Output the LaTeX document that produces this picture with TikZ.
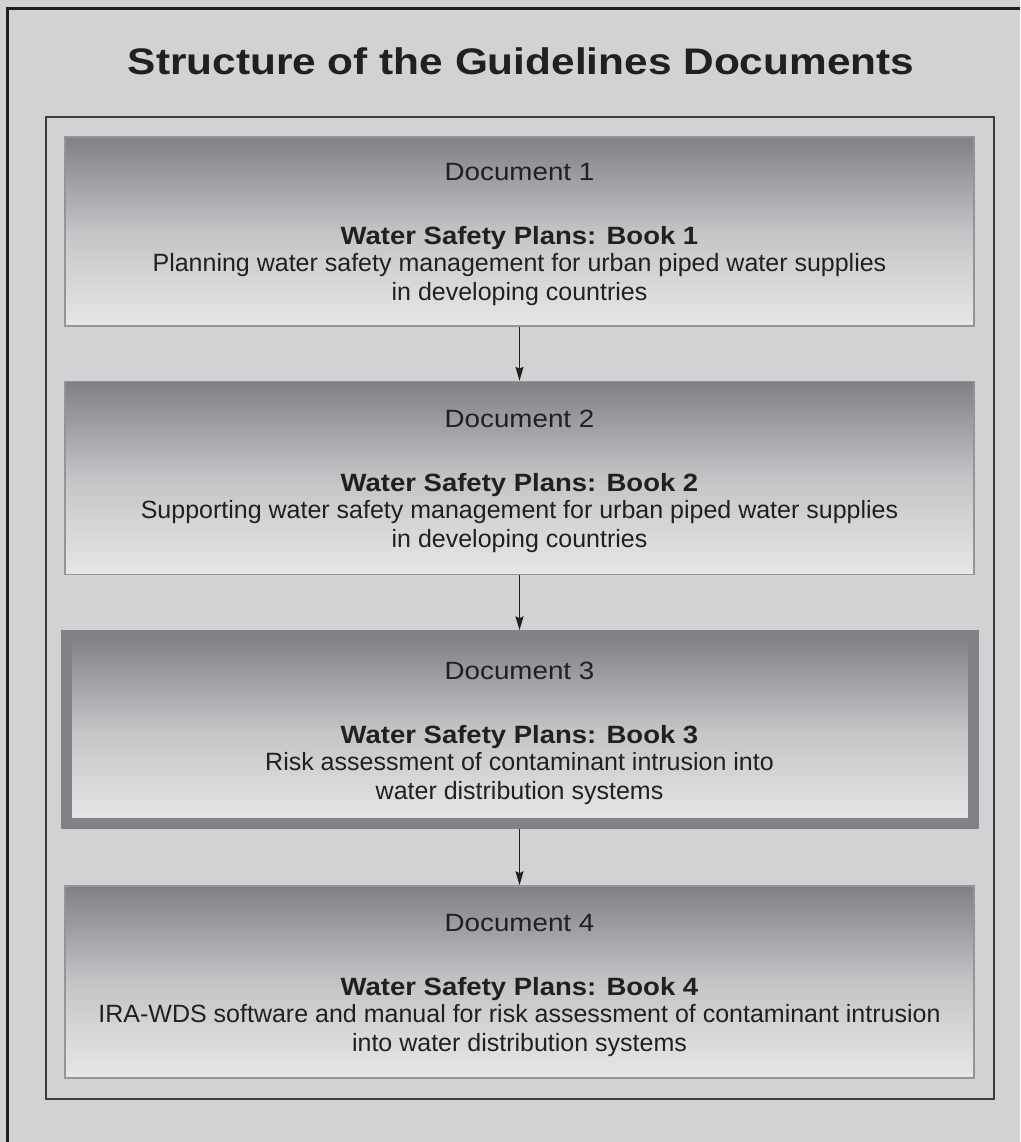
\documentclass[tikz,border=0pt]{standalone}
\usepackage{fontspec}
\setmainfont{Liberation Sans}
\usetikzlibrary{positioning,arrows.meta}

\definecolor{pagegray}{HTML}{D1D2D4}
\definecolor{inkdark}{HTML}{231F20}
\definecolor{framedark}{HTML}{3C3C3E}
\definecolor{boxedge}{HTML}{939598}
\definecolor{thickedge}{HTML}{808285}
\definecolor{shadetop}{HTML}{808185}
\definecolor{shademid}{HTML}{C3C4C6}
\definecolor{shadebot}{HTML}{E6E7E8}

\tikzset{
  docbox/.style={draw=boxedge, line width=1.5pt, top color=shadetop, bottom color=shadebot,
    middle color=shademid, minimum width=909pt, minimum height=189pt, inner sep=0pt,
    align=center, text=inkdark, font=\fontsize{25}{29}\selectfont},
  linkarrow/.style={-{Stealth[length=14pt,width=8pt,inset=2pt]}, line width=1.6pt, inkdark}
}

% Text of one book box
\newcommand{\booktext}[3]{\rule{0pt}{24pt}\scalebox{1.11}[1]{Document #1}\\[35pt]%
  \scalebox{1.10}[1]{\textbf{Water Safety Plans: Book #1}}\\[-2pt]#2\\#3}

\begin{document}
\begin{tikzpicture}[x=1pt,y=1pt]
    % Page background and size
    \fill[pagegray] (0,0) rectangle (1020,-1142);
    \useasboundingbox (0,0) rectangle (1020,-1142);

    % Draw the outer frame (left and top only)
    \draw[line width=2.5pt, inkdark] (7.5,-1142) -- (7.5,-8.5) -- (1020,-8.5);

    % Title
    \node[anchor=base, text=inkdark, font=\fontsize{37}{40}\selectfont\bfseries] (title) at (521,-75)
        {\scalebox{1.145}[1]{Structure of the Guidelines Documents}};

    % Draw the inner frame
    \draw[line width=1.5pt, framedark] (46,-117) rectangle (994,-1099);

    % The four documents
    \node[docbox] (book1) at (519.5,-231.5)
        {\booktext{1}{Planning water safety management for urban piped water supplies}{in developing countries}};
    \node[docbox, minimum height=193pt, below=54pt of book1] (book2)
        {\booktext{2}{Supporting water safety management for urban piped water supplies}{in developing countries}};
    \node[docbox, draw=thickedge, line width=11pt, minimum width=907pt, minimum height=188pt, below=55pt of book2] (book3)
        {\booktext{3}{Risk assessment of contaminant intrusion into}{water distribution systems}};
    \node[docbox, minimum height=192pt, below=56pt of book3] (book4)
        {\booktext{4}{IRA-WDS software and manual for risk assessment of contaminant intrusion}{into water distribution systems}};

    % Connect the documents
    \draw[linkarrow] (book1.south) -- (book2.north);
    \draw[linkarrow] (book2.south) -- (book3.north);
    \draw[linkarrow] (book3.south) -- (book4.north);
\end{tikzpicture}
\end{document}
